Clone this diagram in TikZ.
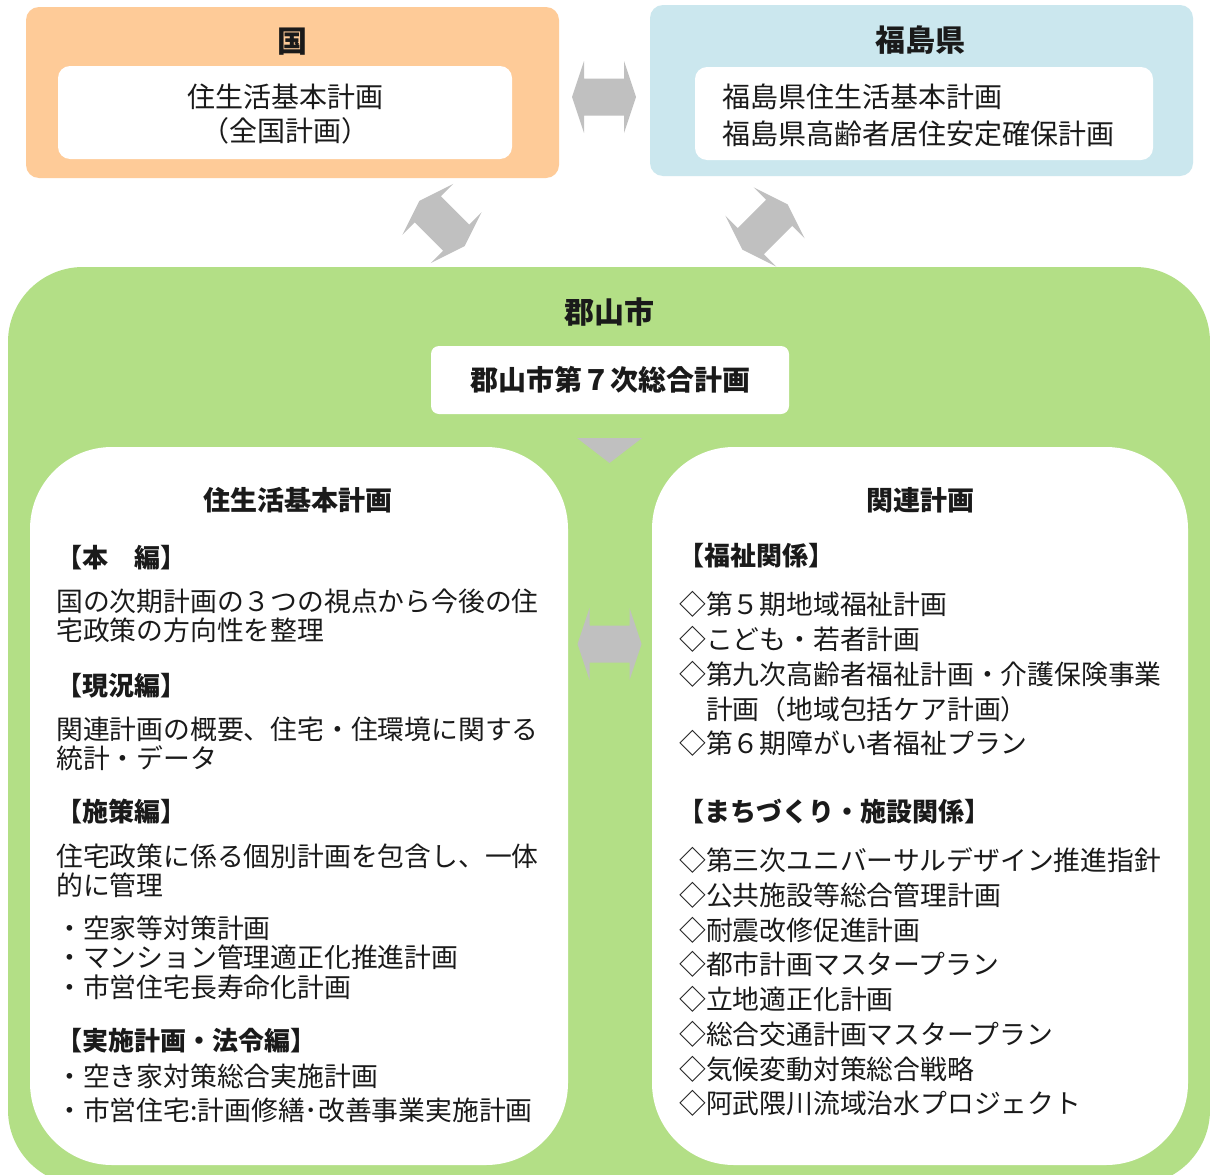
\documentclass[tikz,border=0pt]{standalone}
\usepackage{fontspec}
\newfontfamily\jp{Noto Sans CJK JP}
\definecolor{grn}{HTML}{B3DF86}
\definecolor{org}{HTML}{FECB98}
\definecolor{blu}{HTML}{CBE7EE}
\definecolor{arr}{HTML}{C0C0C0}
\definecolor{txt}{HTML}{1A1A1A}
\tikzset{
  ttl/.style={font=\jp\bfseries\fontsize{30}{36}\selectfont, text=txt, inner sep=0pt},
  hdr/.style={font=\jp\bfseries\fontsize{27}{32}\selectfont, text=txt, inner sep=0pt},
  sec/.style={font=\jp\bfseries\fontsize{26}{31}\selectfont, text=txt, inner sep=0pt, anchor=west},
  bod/.style={font=\jp\fontsize{26.8}{31}\selectfont, text=txt, inner sep=0pt, anchor=west},
  topt/.style={font=\jp\fontsize{28}{33}\selectfont, text=txt, inner sep=0pt},
  dbl/.pic={\fill[arr] (-32,0) -- (-20,-36) -- (-20,-18.5) -- (20,-18.5) -- (20,-36) -- (32,0) -- (20,36) -- (20,18.5) -- (-20,18.5) -- (-20,36) -- cycle;}
}
\begin{document}
\begin{tikzpicture}[x=1pt,y=-1pt]
\useasboundingbox (0,0) rectangle (1210,1175);
\fill[white] (0,0) rectangle (1210,1175);
% top boxes
\fill[org, rounded corners=13pt] (26,7) rectangle (559,178);
\fill[white, rounded corners=12pt] (58,66) rectangle (512,159);
\fill[blu, rounded corners=13pt] (650,5) rectangle (1193,176);
\fill[white, rounded corners=12pt] (695,67) rectangle (1153,160);
\node[ttl] (kuni) at (292,42) {国};
\node[topt] (k1) at (285,97) {住生活基本計画};
\node[topt] (k2) at (285,131) {（全国計画）};
\node[ttl] (fuku) at (920,40) {福島県};
\node[topt, anchor=west] (f1) at (722,97) {福島県住生活基本計画};
\node[topt, anchor=west] (f2) at (722,134) {福島県高齢者居住安定確保計画};
% arrows between top boxes
\pic at (604,97) {dbl};
\pic[rotate=-45] at (442,223.5) {dbl};
\pic[rotate=45] at (765,227) {dbl};
% green box
\begin{scope}
\clip (0,0) rectangle (1210,1175);
\fill[grn, rounded corners=75pt] (8,267) rectangle (1210,1185);
\end{scope}
\node[ttl] (kori) at (609,312) {郡山市};
\fill[white, rounded corners=8pt] (431,346) rectangle (789,414);
\node[hdr, font=\jp\bfseries\fontsize{28}{33}\selectfont] (sogo) at (610,380) {郡山市第７次総合計画};
\fill[arr] (577,438) -- (642,438) -- (609.5,463) -- cycle;
% inner boxes
\fill[white, rounded corners=82pt] (30,447) rectangle (568,1165);
\fill[white, rounded corners=82pt] (652,447) rectangle (1188,1165);
\pic at (609.5,644) {dbl};
% left texts
\node[hdr] (lh) at (298,500) {住生活基本計画};
\node[sec] (l1) at (56,558) {【本　編】};
\node[bod] (l2) at (56,601) {国の次期計画の３つの視点から今後の住};
\node[bod] (l3) at (56,630) {宅政策の方向性を整理};
\node[sec] (l4) at (56,686) {【現況編】};
\node[bod] (l5) at (56,729) {関連計画の概要、住宅・住環境に関する};
\node[bod] (l6) at (56,758) {統計・データ};
\node[sec] (l7) at (56,812) {【施策編】};
\node[bod] (l8) at (56,856) {住宅政策に係る個別計画を包含し、一体};
\node[bod] (l9) at (56,885) {的に管理};
\node[bod] (l10) at (56,928) {・空家等対策計画};
\node[bod] (l11) at (56,957) {・マンション管理適正化推進計画};
\node[bod] (l12) at (56,987) {・市営住宅長寿命化計画};
\node[sec] (l13) at (56,1041) {【実施計画・法令編】};
\node[bod] (l14) at (56,1076) {・空き家対策総合実施計画};
\node[bod] (l15) at (56,1110) {・市営住宅:計画修繕･改善事業実施計画};
% right texts
\node[hdr] (rh) at (920,500) {関連計画};
\node[sec] (r1) at (678,556) {【福祉関係】};
\node[bod] (r2) at (679,604) {◇第５期地域福祉計画};
\node[bod] (r3) at (679,639) {◇こども・若者計画};
\node[bod] (r4) at (679,674) {◇第九次高齢者福祉計画・介護保険事業};
\node[bod] (r5) at (679,709) {　計画（地域包括ケア計画）};
\node[bod] (r6) at (679,743) {◇第６期障がい者福祉プラン};
\node[sec] (r7) at (678,812) {【まちづくり・施設関係】};
\node[bod] (r8) at (679,860) {◇第三次ユニバーサルデザイン推進指針};
\node[bod] (r9) at (679,895) {◇公共施設等総合管理計画};
\node[bod] (r10) at (679,930) {◇耐震改修促進計画};
\node[bod] (r11) at (679,964) {◇都市計画マスタープラン};
\node[bod] (r12) at (679,999) {◇立地適正化計画};
\node[bod] (r13) at (679,1034) {◇総合交通計画マスタープラン};
\node[bod] (r14) at (679,1069) {◇気候変動対策総合戦略};
\node[bod] (r15) at (679,1103) {◇阿武隈川流域治水プロジェクト};
\end{tikzpicture}
\end{document}
